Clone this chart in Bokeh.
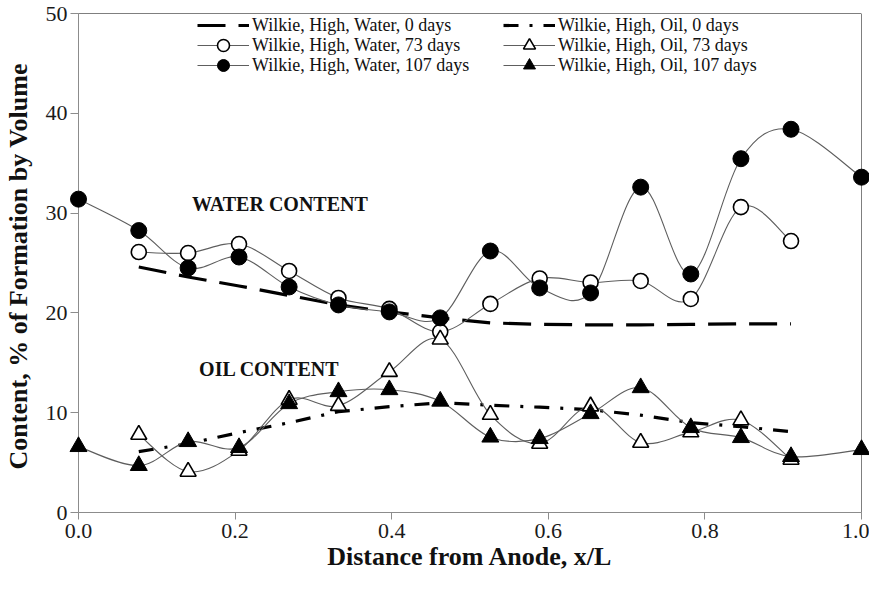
from bokeh.plotting import figure
from bokeh.models import Range1d, Legend, LegendItem, Span, Label, NumeralTickFormatter
from bokeh.embed import file_html
from bokeh.resources import INLINE

# ---- data ----
x_all = [0.0, 0.077, 0.140, 0.205, 0.269, 0.332, 0.397, 0.462, 0.526, 0.589,
         0.654, 0.718, 0.782, 0.846, 0.910, 1.0]
x_mid = x_all[1:15]

water_0 = [24.6, 23.6, 22.7, 21.75, 20.8, 20.1, 19.5, 19.0, 18.85, 18.8, 18.8, 18.85, 18.9, 18.9]
water_73 = [26.1, 26.0, 26.9, 24.2, 21.5, 20.4, 18.1, 20.9, 23.45, 23.05, 23.2, 21.4, 30.6, 27.2]
water_107 = [31.4, 28.25, 24.5, 25.6, 22.6, 20.8, 20.1, 19.5, 26.2, 22.5, 22.0, 32.6, 23.9, 35.45, 38.4, 33.6]

oil_0 = [6.1, 6.9, 8.0, 9.0, 10.1, 10.6, 11.0, 10.75, 10.55, 10.3, 9.75, 9.0, 8.6, 8.1]
oil_73 = [7.8, 4.1, 6.2, 11.3, 10.7, 14.1, 17.35, 9.8, 6.9, 10.65, 7.0, 8.05, 9.25, 5.3]
oil_107 = [6.6, 4.7, 7.1, 6.5, 10.9, 12.1, 12.3, 11.15, 7.55, 7.4, 9.9, 12.5, 8.5, 7.5, 5.6, 6.3]

x_ticks = [0.0, 0.2, 0.4, 0.6, 0.8, 1.0]
y_ticks = [0, 10, 20, 30, 40, 50]

labels = ["Wilkie, High, Water, 0 days", "Wilkie, High, Water, 73 days",
          "Wilkie, High, Water, 107 days", "Wilkie, High, Oil, 0 days",
          "Wilkie, High, Oil, 73 days", "Wilkie, High, Oil, 107 days"]

FONT = "Liberation Serif"
LINE_GRAY = "#5e5e5e"


def smooth_segments(xs, ys):
    """Bezier control points of a Catmull-Rom style smoothed line through the data."""
    n = len(xs)
    d = dict(x0=[], y0=[], x1=[], y1=[], cx0=[], cy0=[], cx1=[], cy1=[])
    for i in range(n - 1):
        ip = max(i - 1, 0)
        i3 = min(i + 2, n - 1)
        d["x0"].append(xs[i]); d["y0"].append(ys[i])
        d["x1"].append(xs[i + 1]); d["y1"].append(ys[i + 1])
        d["cx0"].append(xs[i] + (xs[i + 1] - xs[ip]) / 6.0)
        d["cy0"].append(ys[i] + (ys[i + 1] - ys[ip]) / 6.0)
        d["cx1"].append(xs[i + 1] - (xs[i3] - xs[i]) / 6.0)
        d["cy1"].append(ys[i + 1] - (ys[i3] - ys[i]) / 6.0)
    return d


p = figure(width=869, height=578, output_backend="svg", toolbar_location=None,
           x_range=Range1d(0, 1), y_range=Range1d(0, 50),
           min_border_left=75, min_border_right=8, min_border_top=13, min_border_bottom=66)
p.outline_line_color = None
p.xgrid.grid_line_color = None
p.ygrid.grid_line_color = None
p.background_fill_color = "white"
p.border_fill_color = "white"

# axes
for ax in (p.xaxis[0], p.yaxis[0]):
    ax.axis_line_color = "#8c8c8c"
    ax.major_tick_line_color = "#8c8c8c"
    ax.minor_tick_line_color = None
    ax.major_tick_in = 0
    ax.major_label_text_font = FONT
    ax.major_label_text_font_size = "22px"
    ax.major_label_text_color = "#1a1a1a"
    ax.axis_label_text_font = FONT
    ax.axis_label_text_font_style = "bold"
    ax.axis_label_text_font_size = "26px"
    ax.axis_label_text_color = "#111111"

p.xaxis.ticker = x_ticks
p.yaxis.ticker = y_ticks
p.xaxis.formatter = NumeralTickFormatter(format="0.0")
p.xaxis.major_tick_out = 7
p.yaxis.major_tick_out = 8
p.xaxis.major_label_standoff = 4
p.yaxis.major_label_standoff = 3
p.xaxis.axis_label_standoff = 1
p.yaxis.axis_label_standoff = 10
p.xaxis.axis_label = "Distance from Anode, x/L"
p.yaxis.axis_label = "Content, %  of Formation by Volume"

# top / right frame lines
p.add_layout(Span(location=p.x_range.end, dimension="height", line_color="black", line_width=1))
p.add_layout(Span(location=p.y_range.end, dimension="width", line_color="black", line_width=1))

# ---- series ----
r_w0 = p.line(x_mid, water_0, line_color="black", line_width=3.2, line_dash="28 13")
b_w73 = p.bezier(source=smooth_segments(x_mid, water_73), x0="x0", y0="y0", x1="x1", y1="y1",
                 cx0="cx0", cy0="cy0", cx1="cx1", cy1="cy1", line_color=LINE_GRAY, line_width=1.1)
s_w73 = p.scatter(x_mid, water_73, marker="circle", size=15, fill_color="white",
                  line_color="black", line_width=1.6, level="overlay")
b_w107 = p.bezier(source=smooth_segments(x_all, water_107), x0="x0", y0="y0", x1="x1", y1="y1",
                  cx0="cx0", cy0="cy0", cx1="cx1", cy1="cy1", line_color=LINE_GRAY, line_width=1.1)
s_w107 = p.scatter(x_all, water_107, marker="circle", size=16, fill_color="black",
                   line_color="black", level="overlay")

r_o0 = p.line(x_mid, oil_0, line_color="black", line_width=3.2, line_dash="15 11 3 11")
b_o73 = p.bezier(source=smooth_segments(x_mid, oil_73), x0="x0", y0="y0", x1="x1", y1="y1",
                 cx0="cx0", cy0="cy0", cx1="cx1", cy1="cy1", line_color=LINE_GRAY, line_width=1.1)
s_o73 = p.scatter(x_mid, oil_73, marker="triangle", size=16, fill_color="white",
                  line_color="black", line_width=1.6, level="overlay")
b_o107 = p.bezier(source=smooth_segments(x_all, oil_107), x0="x0", y0="y0", x1="x1", y1="y1",
                  cx0="cx0", cy0="cy0", cx1="cx1", cy1="cy1", line_color=LINE_GRAY, line_width=1.1)
s_o107 = p.scatter(x_all, oil_107, marker="triangle", size=17, fill_color="black",
                   line_color="black", level="overlay")

# ---- annotations ----
p.add_layout(Label(x=0.145, y=30.9, text="WATER CONTENT", text_font=FONT,
                   text_font_style="bold", text_font_size="20px", text_baseline="middle",
                   text_color="#111111"))
p.add_layout(Label(x=0.154, y=14.35, text="OIL CONTENT", text_font=FONT,
                   text_font_style="bold", text_font_size="20px", text_baseline="middle",
                   text_color="#111111"))

# ---- legend: one single-item legend per entry, laid out in two columns of three ----
entries = [(labels[0], [r_w0]), (labels[1], [b_w73, s_w73]), (labels[2], [b_w107, s_w107]),
           (labels[3], [r_o0]), (labels[4], [b_o73, s_o73]), (labels[5], [b_o107, s_o107])]
col_x = [119, 425]
row_y = [472, 452, 432]
for k, (lab, rends) in enumerate(entries):
    leg = Legend(items=[LegendItem(label=lab, renderers=rends)],
                 location=(col_x[k // 3], row_y[k % 3]), orientation="vertical",
                 border_line_color=None, background_fill_alpha=0,
                 label_text_font=FONT, label_text_font_size="18px", label_text_color="#111111",
                 glyph_width=52, glyph_height=30, label_standoff=3, label_height=16,
                 padding=0, margin=0)
    p.add_layout(leg)

open("out.html", "w").write(file_html(p, INLINE))
